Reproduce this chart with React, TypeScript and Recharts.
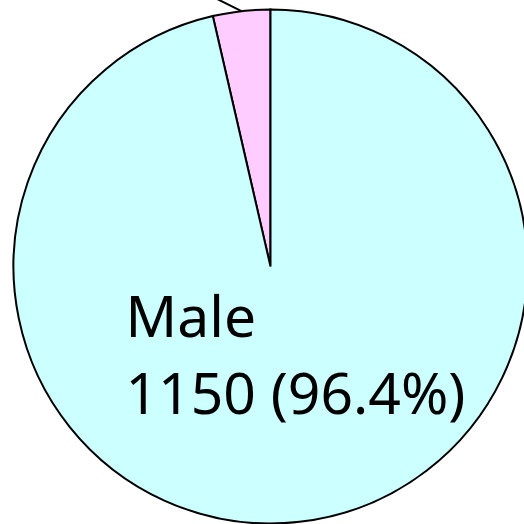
import { Cell, Pie, PieChart } from "recharts";

const names = ["Female", "Male"];
const counts = [43, 1150];
const percents = ["3.6%", "96.4%"];
const colors = ["#ffccff", "#ccffff"];

const data = names.map((name, i) => ({
  name,
  value: counts[i],
  pct: percents[i],
}));

const RADIAN = Math.PI / 180;

const renderLabel = (props: any) => {
  const { cx, cy, midAngle, outerRadius, index } = props;
  const item = data[index];
  if (item.name === "Male") {
    const x = cx - 145;
    const y = cy + 70;
    return (
      <text
        x={x}
        y={y}
        fill="#000"
        fontFamily="Noto Sans"
        fontSize={57}
        textAnchor="start"
      >
        <tspan x={x} dy={0}>
          {item.name}
        </tspan>
        <tspan x={x} dy={77}>
          {`${item.value} (${item.pct})`}
        </tspan>
      </text>
    );
  }
  // female label sits above the visible area, only its leader line shows
  const sx = cx + outerRadius * Math.cos(-midAngle * RADIAN);
  const sy = cy + outerRadius * Math.sin(-midAngle * RADIAN);
  const ex = sx - 64;
  const ey = sy - 32;
  return (
    <g>
      <path d={`M${sx},${sy}L${ex},${ey}`} stroke="#000" strokeWidth={2} fill="none" />
      <text
        x={ex - 10}
        y={ey - 10}
        fill="#000"
        fontFamily="Noto Sans"
        fontSize={57}
        textAnchor="end"
      >
        {`${item.name} ${item.value} (${item.pct})`}
      </text>
    </g>
  );
};

const App = () => {
  return (
    <div style={{ position: "absolute", left: 0, top: 0, width: 524, height: 524, overflow: "hidden" }}>
      <PieChart width={524} height={524} margin={{ top: 0, right: 0, bottom: 0, left: 0 }}>
        <Pie
          data={data}
          dataKey="value"
          nameKey="name"
          cx={270.5}
          cy={266.5}
          innerRadius={0}
          outerRadius={257}
          startAngle={90}
          endAngle={450}
          stroke="#000"
          strokeWidth={2}
          label={renderLabel}
          labelLine={false}
          isAnimationActive={false}
        >
          {data.map((entry, index) => (
            <Cell key={`cell-${index}`} fill={colors[index % colors.length]} />
          ))}
        </Pie>
      </PieChart>
    </div>
  );
};

export default App;
